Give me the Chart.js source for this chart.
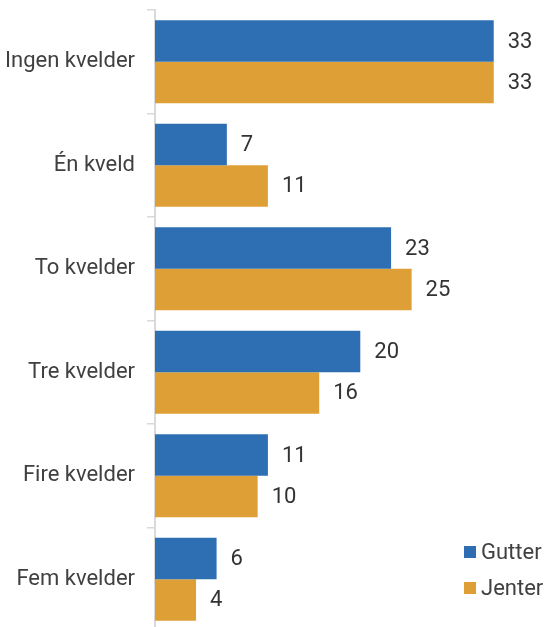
<!DOCTYPE html>
<html lang="no">
<head>
<meta charset="utf-8">
<title>Kvelder</title>
<script src="https://cdn.jsdelivr.net/npm/chart.js@4"></script>
<style>
  html, body { margin: 0; padding: 0; background: #fff; overflow: hidden; }
  #wrap { position: relative; width: 545px; height: 631px; }
</style>
</head>
<body>
<div id="wrap"><canvas id="chart"></canvas></div>
<script>
// Categories and values per group (percent)
const categories = ["Ingen kvelder", "Én kveld", "To kvelder", "Tre kvelder", "Fire kvelder", "Fem kvelder"];
const gutterValues = [33, 7, 23, 20, 11, 6];
const jenterValues = [33, 11, 25, 16, 10, 4];
const seriesNames = ["Gutter", "Jenter"];
const seriesColors = ["#2e6fb4", "#df9f37"];
const xMax = 37.8;

const FONT = "Roboto, 'Noto Sans', sans-serif";
const TEXT_COLOR = "#404040";

// Value printed to the right of each bar
const valueLabels = {
  id: "valueLabels",
  afterDatasetsDraw(chart) {
    const ctx = chart.ctx;
    ctx.save();
    ctx.font = `22px ${FONT}`;
    ctx.fillStyle = "#333333";
    ctx.textAlign = "left";
    ctx.textBaseline = "middle";
    chart.data.datasets.forEach((ds, i) => {
      const meta = chart.getDatasetMeta(i);
      meta.data.forEach((bar, j) => {
        ctx.fillText(String(ds.data[j]), bar.x + 14, bar.y + 1);
      });
    });
    ctx.restore();
  },
};

// Small legend in the lower right corner, over the empty part of the plot
const cornerLegend = {
  id: "cornerLegend",
  afterDraw(chart) {
    const ctx = chart.ctx;
    const x = 464;
    const rows = [552, 588];
    ctx.save();
    ctx.font = `22px ${FONT}`;
    ctx.textAlign = "left";
    ctx.textBaseline = "middle";
    chart.data.datasets.forEach((ds, i) => {
      const y = rows[i];
      ctx.fillStyle = ds.backgroundColor;
      ctx.fillRect(x, y - 6, 12, 12);
      ctx.fillStyle = TEXT_COLOR;
      ctx.fillText(ds.label, x + 17, y + 1);
    });
    ctx.restore();
  },
};

const ctx = document.querySelector("#chart").getContext("2d");

new Chart(ctx, {
  type: "bar",
  data: {
    labels: categories,
    datasets: [
      {
        label: seriesNames[0],
        data: gutterValues,
        backgroundColor: seriesColors[0],
        categoryPercentage: 0.8,
        barPercentage: 1.0,
      },
      {
        label: seriesNames[1],
        data: jenterValues,
        backgroundColor: seriesColors[1],
        categoryPercentage: 0.8,
        barPercentage: 1.0,
      },
    ],
  },
  options: {
    indexAxis: "y",
    responsive: true,
    maintainAspectRatio: false,
    animation: false,
    layout: { autoPadding: false, padding: { left: 4, top: 10, right: 2, bottom: 0 } },
    plugins: {
      legend: { display: false },
      tooltip: { enabled: false },
    },
    scales: {
      x: { display: false, min: 0, max: xMax },
      y: {
        // fixed label column so the axis line sits at x = 155,
        // and no extra room reserved above/below for the labels
        afterFit(scale) {
          scale.width = 151;
          scale.paddingTop = 0;
          scale.paddingBottom = 0;
        },
        grid: {
          drawOnChartArea: false,
          drawTicks: true,
          tickLength: 8,
          color: "#d9d9d9",
          lineWidth: 1.5,
        },
        border: { color: "#d9d9d9", width: 2 },
        ticks: {
          font: { family: FONT, size: 22 },
          color: TEXT_COLOR,
          padding: 12,
        },
      },
    },
  },
  plugins: [valueLabels, cornerLegend],
});
</script>
</body>
</html>
